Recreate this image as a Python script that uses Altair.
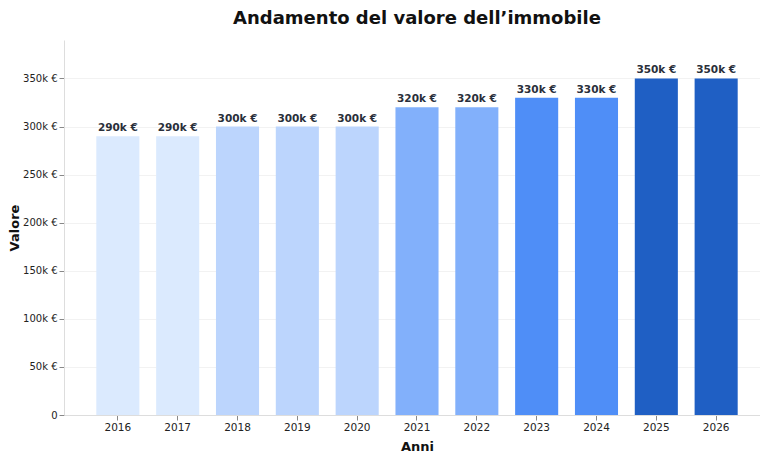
import altair as alt
import pandas as pd

anni = ["2016", "2017", "2018", "2019", "2020", "2021", "2022", "2023", "2024", "2025", "2026"]
valori = [290000, 290000, 300000, 300000, 300000, 320000, 320000, 330000, 330000, 350000, 350000]
etichette = ["290k €", "290k €", "300k €", "300k €", "300k €", "320k €", "320k €", "330k €", "330k €", "350k €", "350k €"]
colori = ["#dbeafe", "#dbeafe", "#bcd5fd", "#bcd5fd", "#bcd5fd", "#82b0fb", "#82b0fb", "#4f8ef7", "#4f8ef7", "#1f5fc4", "#1f5fc4"]
y_ticks = [0, 50000, 100000, 150000, 200000, 250000, 300000, 350000]

df = pd.DataFrame({"Anni": anni, "Valore": valori, "Etichetta": etichette, "Colore": colori})

FONT = "DejaVu Sans"

base = alt.Chart(df).encode(
    x=alt.X("Anni:N", sort=anni,
            scale=alt.Scale(paddingInner=0.28, paddingOuter=0.54),
            axis=alt.Axis(title="Anni", labelAngle=0, labelFontSize=10.5, labelColor="#222",
                          titleFontSize=13, titleFontWeight="bold", titleColor="#111",
                          titlePadding=8, tickColor="#888", tickSize=5, domainColor="#ddd",
                          labelFont=FONT, titleFont=FONT, grid=False)),
    y=alt.Y("Valore:Q", scale=alt.Scale(domain=[0, 390000], nice=False),
            axis=alt.Axis(title="Valore", values=y_ticks,
                          labelExpr="datum.value == 0 ? '0' : (datum.value/1000) + 'k €'",
                          labelFontSize=10, labelColor="#222", titleFontSize=13,
                          titleFontWeight="bold", titleColor="#111", titlePadding=1,
                          tickColor="#888", tickSize=5, domainColor="#ddd",
                          gridColor="#f2f2f2", labelFont=FONT, titleFont=FONT)),
)

bars = base.mark_bar().encode(color=alt.Color("Colore:N", scale=None))
text = base.mark_text(baseline="bottom", dy=-3, fontSize=10.5, fontWeight="bold",
                      color="#2a2f3a", font=FONT).encode(text="Etichetta:N")

chart = (bars + text).properties(
    width=706, height=375,
    autosize=alt.AutoSizeParams(type="none"),
    padding={"left": 56, "top": 32, "right": -10, "bottom": 41},
    title=alt.TitleParams("Andamento del valore dell’immobile", fontSize=18, font=FONT,
                          fontWeight="bold", color="#111", offset=12, anchor="middle"),
).configure_view(stroke=None)

chart.save("out.html", embed_options={"renderer": "svg", "actions": False})
